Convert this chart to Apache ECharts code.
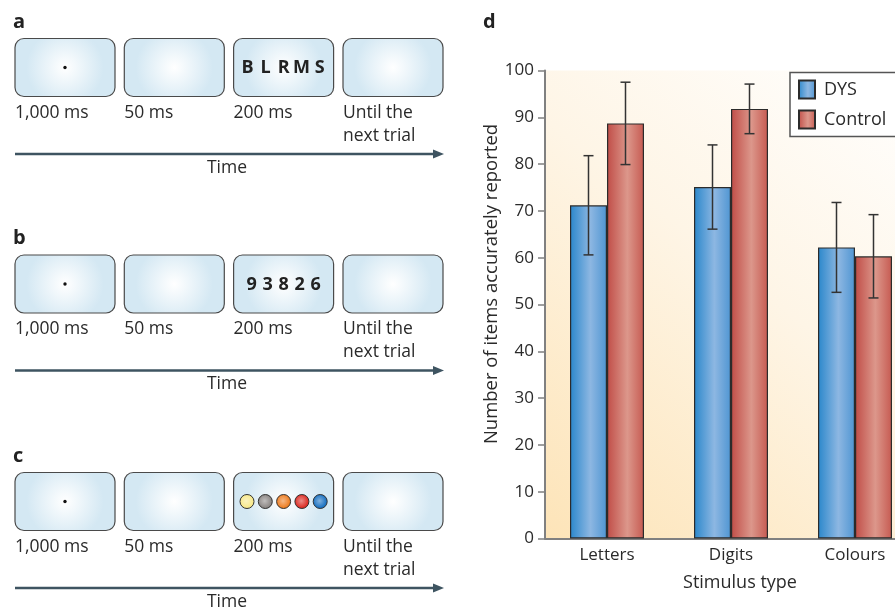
<!DOCTYPE html>
<html>
<head>
<meta charset="utf-8">
<script src="https://cdn.jsdelivr.net/npm/echarts@6/dist/echarts.min.js"></script>
<style>
body { margin: 0; background: #fff; }
#chart { width: 895px; height: 610px; }
</style>
</head>
<body>
<div id="chart"></div>
<script>
// panel d data
const categories = ['Letters', 'Digits', 'Colours']
const dysMean = [71.2, 75.1, 62.2]
const dysErr = [10.6, 9.0, 9.6]
const controlMean = [88.7, 91.8, 60.3]
const controlErr = [8.8, 5.3, 8.9]
const yTicks = [0, 100, 10]

// panels a-c
const panelNames = ['a', 'b', 'c']
const durations = ['1,000 ms', '50 ms', '200 ms', 'Until the\nnext trial']
const letterStim = ['B', 'L', 'R', 'M', 'S']
const digitStim = ['9', '3', '8', '2', '6']
const colourStim = ['#f7e98c', '#8c8785', '#ee7f24', '#dc2f27', '#1b72c2']

const FONT = '"Open Sans", "Noto Sans", sans-serif'
const chart = echarts.init(document.getElementById('chart'))

const boxFill = () => new echarts.graphic.RadialGradient(0.5, 0.5, 0.65, [
  { offset: 0, color: '#ffffff' },
  { offset: 1, color: '#d4e8f3' }
])

const graphics = []
const boxX = [15, 124.3, 233.6, 343]
panelNames.forEach((name, p) => {
  const dy = [0, 216.5, 434][p]
  graphics.push({ type: 'text', x: 13, y: 22 + dy, style: { text: name, font: 'bold 20px ' + FONT, fill: '#222', verticalAlign: 'middle' } })
  boxX.forEach((bx, i) => {
    graphics.push({
      type: 'rect',
      shape: { x: bx, y: 38.5 + dy, width: 100, height: 58, r: 9 },
      style: { fill: boxFill(), stroke: '#4a4a4a', lineWidth: 1.2 }
    })
    const lines = durations[i].split('\n')
    lines.forEach((t, k) => {
      graphics.push({ type: 'text', x: bx, y: 113 + k * 23 + dy, style: { text: t, font: '17.5px ' + FONT, fill: '#2a2a2a', verticalAlign: 'middle' } })
    })
  })
  // fixation dot
  graphics.push({ type: 'circle', shape: { cx: 65, cy: 67.5 + dy, r: 1.7 }, style: { fill: '#111' } })
  // stimulus array
  const cx = boxX[2] + 50
  if (p < 2) {
    const chars = p === 0 ? letterStim : digitStim
    const pitch = p === 0 ? 18 : 16
    chars.forEach((c, k) => {
      graphics.push({
        type: 'text', x: cx + (k - 2) * pitch, y: 68 + dy,
        style: { text: c, font: 'bold 18px ' + FONT, fill: '#222', align: 'center', verticalAlign: 'middle' }
      })
    })
  } else {
    colourStim.forEach((col, k) => {
      const shape = { cx: cx + (k - 2) * 18.3, cy: 67.5 + dy, r: 7 }
      graphics.push({ type: 'circle', shape: shape, style: { fill: col, stroke: '#333', lineWidth: 1 } })
      graphics.push({
        type: 'circle', shape: { cx: shape.cx, cy: shape.cy, r: 6.2 },
        style: {
          fill: new echarts.graphic.RadialGradient(0.45, 0.45, 0.55, [
            { offset: 0, color: 'rgba(255,255,255,0.45)' }, { offset: 1, color: 'rgba(255,255,255,0)' }
          ])
        }
      })
    })
  }
  // time arrow
  graphics.push({ type: 'line', shape: { x1: 15, y1: 154 + dy, x2: 436, y2: 154 + dy }, style: { stroke: '#3e5461', lineWidth: 2.6 } })
  graphics.push({ type: 'polygon', shape: { points: [[433, 149.5 + dy], [444, 154 + dy], [433, 158.5 + dy]] }, style: { fill: '#3e5461' } })
  graphics.push({ type: 'text', x: 227, y: 168 + dy, style: { text: 'Time', font: '17.5px ' + FONT, fill: '#2a2a2a', align: 'center', verticalAlign: 'middle' } })
})

graphics.push({ type: 'text', x: 483, y: 22, style: { text: 'd', font: 'bold 20px ' + FONT, fill: '#222', verticalAlign: 'middle' } })
graphics.push({
  type: 'text', x: 492, y: 284, rotation: Math.PI / 2,
  style: { text: 'Number of items accurately reported', font: '18.5px ' + FONT, fill: '#2a2a2a', align: 'center', verticalAlign: 'middle' }
})

const barGrad = (a, b, c) => new echarts.graphic.LinearGradient(0, 0, 1, 0, [
  { offset: 0, color: a }, { offset: 0.55, color: b }, { offset: 1, color: c }
])

const BAR_W = 37
const errorSeries = (name, means, errs, shift) => ({
  name: name,
  type: 'custom',
  z: 5,
  data: means.map((m, i) => [i, m - errs[i], m + errs[i]]),
  renderItem: (params, api) => {
    const lo = api.coord([api.value(0), api.value(1)])
    const hi = api.coord([api.value(0), api.value(2)])
    const x = lo[0] + shift
    const st = { stroke: '#333', lineWidth: 1.5 }
    return {
      type: 'group',
      children: [
        { type: 'line', shape: { x1: x, y1: lo[1], x2: x, y2: hi[1] }, style: st },
        { type: 'line', shape: { x1: x - 5, y1: lo[1], x2: x + 5, y2: lo[1] }, style: st },
        { type: 'line', shape: { x1: x - 5, y1: hi[1], x2: x + 5, y2: hi[1] }, style: st }
      ]
    }
  }
})

chart.setOption({
  animation: false,
  textStyle: { fontFamily: FONT },
  graphic: graphics,
  grid: {
    left: 545, top: 70.5, width: 372, height: 468,
    outerBoundsMode: 'none',
    containLabel: false,
    show: true, borderWidth: 0,
    backgroundColor: new echarts.graphic.LinearGradient(0, 1, 1, 0, [
      { offset: 0, color: '#fde4b8' },
      { offset: 0.55, color: '#fef5e6' },
      { offset: 1, color: '#ffffff' }
    ])
  },
  legend: {
    data: ['DYS', 'Control'],
    orient: 'vertical',
    left: 790, top: 72.5,
    icon: 'rect',
    itemWidth: 16, itemHeight: 18, itemGap: 10,
    padding: [7, 40, 7, 8],
    borderColor: '#555', borderWidth: 1.5,
    backgroundColor: '#fff',
    textStyle: { fontSize: 18, color: '#2a2a2a', padding: [0, 0, 0, 4] }
  },
  xAxis: {
    type: 'category',
    data: categories,
    axisLine: { lineStyle: { color: '#808080', width: 2 } },
    axisTick: { show: false },
    axisLabel: { fontSize: 17, color: '#2a2a2a', margin: 8 },
    name: 'Stimulus type',
    nameLocation: 'middle',
    nameGap: 35,
    nameTextStyle: { fontSize: 18, color: '#2a2a2a', padding: [0, 0, 0, 18] }
  },
  yAxis: {
    type: 'value',
    min: yTicks[0], max: yTicks[1], interval: yTicks[2],
    axisLine: { show: true, lineStyle: { color: '#808080', width: 2 } },
    axisTick: { show: true, length: 7, lineStyle: { color: '#808080', width: 1.5 } },
    splitLine: { show: false },
    axisLabel: { fontSize: 17, color: '#2a2a2a', margin: 11 }
  },
  series: [
    {
      name: 'DYS', type: 'bar', data: dysMean, barWidth: BAR_W, barGap: '0%',
      itemStyle: { color: barGrad('#2a87cb', '#8db7e2', '#4f95d2'), borderColor: '#2b2b2b', borderWidth: 1.2 }
    },
    {
      name: 'Control', type: 'bar', data: controlMean, barWidth: BAR_W, barGap: '0%',
      itemStyle: { color: barGrad('#c04d47', '#dc978b', '#c65a51'), borderColor: '#2b2b2b', borderWidth: 1.2 }
    },
    errorSeries('DYS error', dysMean, dysErr, -BAR_W / 2),
    errorSeries('Control error', controlMean, controlErr, BAR_W / 2)
  ]
})
</script>
</body>
</html>
